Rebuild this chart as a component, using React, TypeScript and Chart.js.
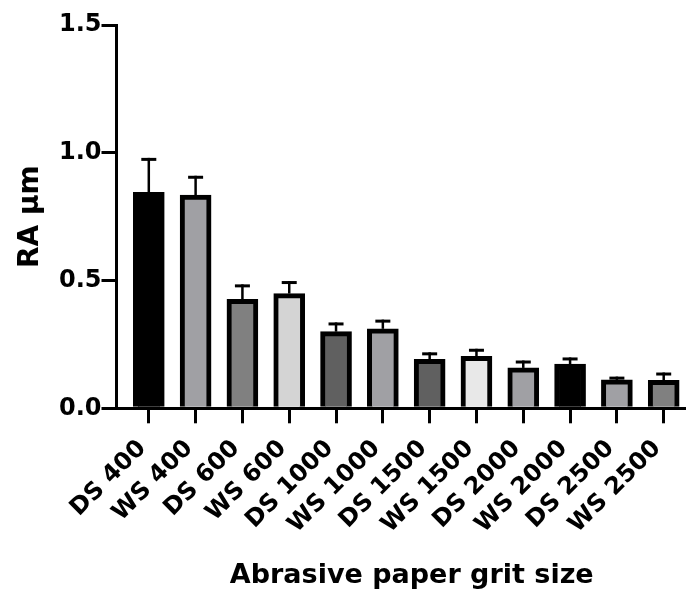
import React, { useEffect, useRef } from 'react';
import { Chart, registerables } from 'chart.js';

Chart.register(...registerables);

const categories = ['DS 400', 'WS 400', 'DS 600', 'WS 600', 'DS 1000', 'WS 1000', 'DS 1500', 'WS 1500', 'DS 2000', 'WS 2000', 'DS 2500', 'WS 2500'];
const meanValues = [0.845, 0.834, 0.426, 0.449, 0.300, 0.311, 0.192, 0.203, 0.158, 0.173, 0.111, 0.109];
const sdValues = [0.135, 0.076, 0.059, 0.049, 0.036, 0.036, 0.027, 0.030, 0.029, 0.026, 0.013, 0.031];
const barColors = ['#000000', '#a0a0a4', '#808080', '#d4d4d4', '#606060', '#a0a0a4', '#606060', '#e8e8e8', '#a0a0a4', '#000000', '#a0a0a4', '#808080'];
const yTickValues = [0, 0.5, 1.0, 1.5];

const FONT = '"DejaVu Sans", sans-serif';

const errorBarPlugin = {
  id: 'errorBars',
  afterDatasetsDraw(chart: any) {
    const { ctx } = chart;
    const x = chart.scales.x;
    const y = chart.scales.y;
    ctx.save();
    ctx.strokeStyle = '#000000';
    ctx.lineCap = 'butt';
    meanValues.forEach((v, i) => {
      const px = x.getPixelForValue(i);
      const yTop = y.getPixelForValue(v + sdValues[i]);
      const yBar = y.getPixelForValue(v);
      ctx.lineWidth = 2.5;
      ctx.beginPath();
      ctx.moveTo(px, yBar);
      ctx.lineTo(px, yTop);
      ctx.stroke();
      ctx.lineWidth = 3;
      ctx.beginPath();
      ctx.moveTo(px - 7.5, yTop + 1.5);
      ctx.lineTo(px + 7.5, yTop + 1.5);
      ctx.stroke();
    });
    ctx.restore();
  },
};

export default function App() {
  const canvasRef = useRef<HTMLCanvasElement | null>(null);

  useEffect(() => {
    if (!canvasRef.current) return;
    const chart = new Chart(canvasRef.current, {
      type: 'bar',
      data: {
        datasets: [
          {
            data: meanValues.map((v, i) => ({ x: i, y: v })),
            backgroundColor: barColors,
            borderColor: '#000000',
            borderWidth: 5,
            borderSkipped: 'bottom',
            barThickness: 31,
          },
        ],
      },
      options: {
        responsive: false,
        animation: false,
        layout: { padding: { left: 0, right: 0, top: 25, bottom: 0 } },
        plugins: {
          legend: { display: false },
          tooltip: { enabled: false },
        },
        scales: {
          x: {
            type: 'linear',
            offset: false,
            min: -0.69,
            max: 11.925,
            afterBuildTicks: (axis: any) => {
              axis.ticks = categories.map((_, i) => ({ value: i }));
            },
            afterFit: (scale: any) => {
              scale.height = 183.7;
              scale.paddingRight = 0;
              scale.paddingLeft = 0;
            },
            ticks: {
              autoSkip: false,
              maxRotation: 45,
              minRotation: 45,
              padding: 13,
              labelOffset: -6.5,
              color: '#000000',
              font: { family: FONT, size: 24, weight: 'bold', lineHeight: 1 },
              callback: (v: any) => categories[v] ?? '',
            },
            grid: {
              offset: false,
              drawOnChartArea: false,
              drawTicks: true,
              tickLength: 15,
              lineWidth: 3,
              color: '#000000',
            },
            border: { display: true, width: 3, color: '#000000' },
            title: {
              display: true,
              text: 'Abrasive paper grit size',
              color: '#000000',
              font: { family: FONT, size: 27, weight: 'bold', lineHeight: 1 },
              padding: { top: 0, bottom: 2.8 },
            },
          },
          y: {
            type: 'linear',
            min: 0,
            max: 1.5,
            afterBuildTicks: (axis: any) => {
              axis.ticks = yTickValues.map((v) => ({ value: v }));
            },
            afterFit: (scale: any) => {
              scale.width = 116.5;
            },
            ticks: {
              padding: 0,
              color: '#000000',
              font: { family: FONT, size: 24, weight: 'bold' },
              callback: (v: any) => Number(v).toFixed(1),
            },
            grid: {
              drawOnChartArea: false,
              drawTicks: true,
              tickLength: 15,
              lineWidth: 3,
              color: '#000000',
            },
            border: { display: true, width: 3, color: '#000000' },
            title: {
              display: true,
              text: 'RA μm',
              color: '#000000',
              font: { family: FONT, size: 28, weight: 'bold', lineHeight: 1 },
              padding: { top: 16.3, bottom: 0 },
            },
          },
        },
      },
      plugins: [errorBarPlugin],
    } as any);
    return () => chart.destroy();
  }, []);

  return (
    <div style={{ position: 'absolute', left: 0, top: 0, width: 686, height: 592, overflow: 'hidden', background: '#ffffff' }}>
      <canvas ref={canvasRef} width={707} height={592} style={{ display: 'block' }} />
    </div>
  );
}
